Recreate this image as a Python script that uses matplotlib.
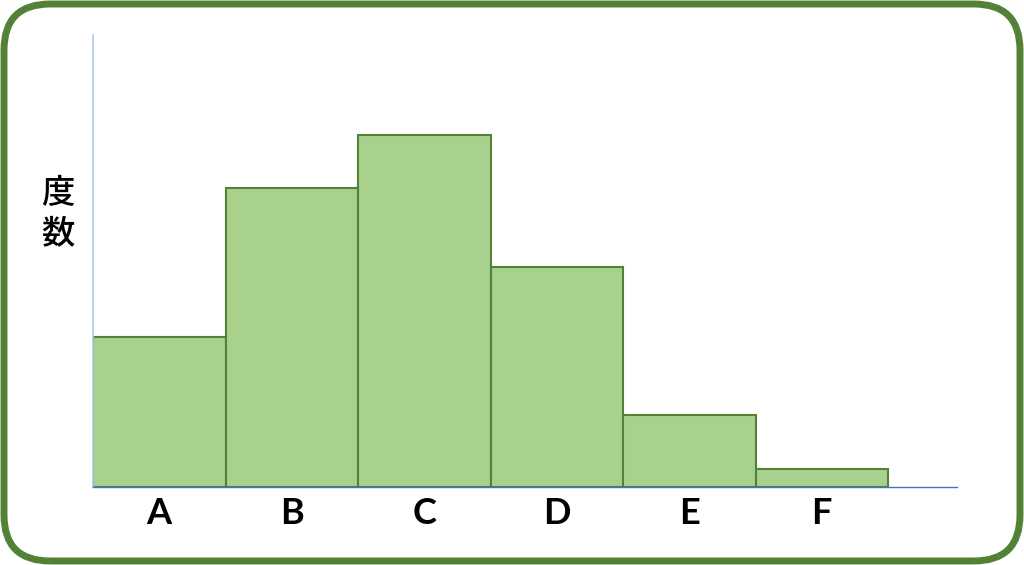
import matplotlib.pyplot as plt
from matplotlib.patches import FancyBboxPatch

# 数据
categories = ['A', 'B', 'C', 'D', 'E', 'F']
counts = [8.5, 17.0, 20.0, 12.5, 4.1, 1.0]

plt.rcParams['font.family'] = ['Noto Sans CJK JP', 'DejaVu Sans']

W, H = 1024, 565
fig = plt.figure(figsize=(W / 100, H / 100), dpi=100)
fig.patch.set_facecolor('white')

# 外框 (圆角绿色边框)
frame = FancyBboxPatch((4 / W, 4 / H), 1 - 8 / W, 1 - 8 / H,
                       boxstyle='round,pad=0,rounding_size=0.045',
                       transform=fig.transFigure, facecolor='none',
                       edgecolor='#548235', linewidth=5, zorder=5,
                       mutation_aspect=W / H)
fig.patches.append(frame)

ax = fig.add_axes([93 / W, 1 - 487 / H, 864 / W, 452 / H])
ax.patch.set_alpha(0)

x = list(range(len(categories)))
ax.bar(x, counts, width=1.0, align='edge', color='#A9D18E',
       edgecolor='#548235', linewidth=1.5, zorder=2)

ax.set_xlim(0, 864 / 132.5)
ax.set_ylim(0, 20 * 452 / 352)

for s in ['top', 'right']:
    ax.spines[s].set_visible(False)
ax.spines['left'].set_color('#B4C7E7')
ax.spines['left'].set_linewidth(1.2)
ax.spines['bottom'].set_color('#4472C4')
ax.spines['bottom'].set_linewidth(1.0)
ax.spines['bottom'].set_zorder(3)

ax.set_yticks([])
ax.set_xticks([i + 0.5 for i in x])
ax.set_xticklabels(categories, fontsize=26, fontweight='bold',
                   family=['Lato', 'DejaVu Sans'])
ax.tick_params(axis='x', length=0, pad=7)

fig.text(58 / W, 1 - 214 / H, '度\n数', ha='center', va='center',
         fontsize=24, fontweight='medium', linespacing=1.2)

fig.savefig('out.png', dpi=100)
